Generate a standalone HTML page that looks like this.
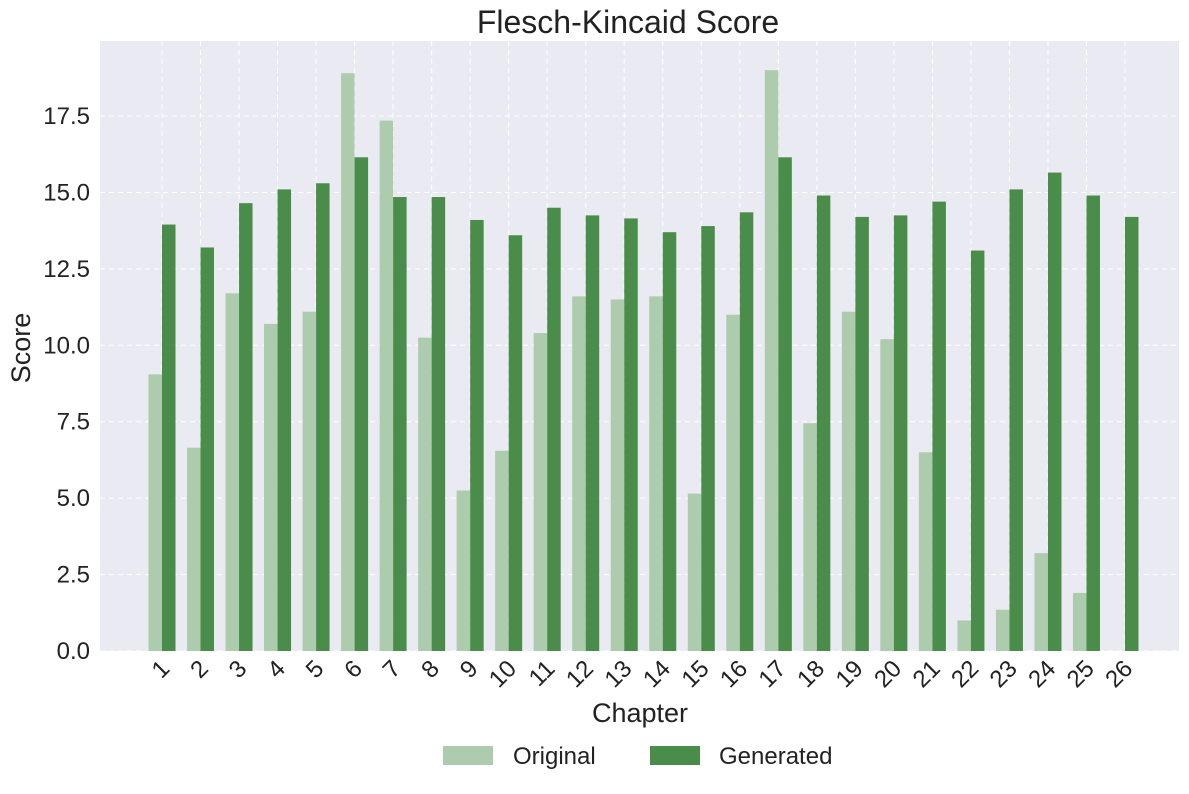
<!DOCTYPE html>
<html><head><meta charset="utf-8"><style>
body{margin:0;background:#fff;font-family:"Liberation Sans",sans-serif}
svg text{font-family:"Liberation Sans",sans-serif;fill:#222}
</style></head><body>
<svg id="chart" width="1189" height="789" viewBox="0 0 1189 789" xmlns="http://www.w3.org/2000/svg">
<rect x="0" y="0" width="1189" height="789" fill="#fff"/>
<rect x="100" y="41" width="1079" height="610" fill="#eaeaf2"/>
<g id="grid"></g><g id="bars"></g><g id="ticks"></g>
<text x="628" y="33" font-size="32" text-anchor="middle">Flesch-Kincaid Score</text>
<text x="640" y="722" font-size="27" text-anchor="middle">Chapter</text>
<text x="30" y="348" font-size="27" text-anchor="middle" transform="rotate(-90 30 348)">Score</text>
<g>
<rect x="443" y="746" width="50" height="19" fill="#adcbad"/>
<text x="513" y="764" font-size="24">Original</text>
<rect x="650" y="746" width="50" height="19" fill="#4a8c4a"/>
<text x="719" y="764" font-size="24">Generated</text>
</g>
</svg>
<script>
const categories=["1","2","3","4","5","6","7","8","9","10","11","12","13","14","15","16","17","18","19","20","21","22","23","24","25","26"];
const original=[9.05,6.65,11.7,10.7,11.1,18.9,17.35,10.25,5.25,6.55,10.4,11.6,11.5,11.6,5.15,11.0,19.0,7.45,11.1,10.2,6.5,1.0,1.35,3.2,1.9,0];
const generated=[13.95,13.2,14.65,15.1,15.3,16.15,14.85,14.85,14.1,13.6,14.5,14.25,14.15,13.7,13.9,14.35,16.15,14.9,14.2,14.25,14.7,13.1,15.1,15.65,14.9,14.2];
const yTicks=[0,2.5,5,7.5,10,12.5,15,17.5];
const NS="http://www.w3.org/2000/svg";
const y=v=>651-v*30.57;
const x=i=>162+i*38.52;
const bw=13.5;
function mk(t,a,p){const e=document.createElementNS(NS,t);for(const k in a)e.setAttribute(k,a[k]);p.appendChild(e);return e;}
const grid=document.getElementById('grid'),bars=document.getElementById('bars'),ticks=document.getElementById('ticks');
yTicks.forEach(v=>{
 const l=mk('line',{x1:100,x2:1179,y1:y(v),y2:y(v),stroke:'#fff','stroke-dasharray':'5,4','stroke-width':1},grid);
 
 
 const t=mk('text',{x:90,y:y(v)+8,'font-size':24,'text-anchor':'end'},ticks);
 t.textContent=v.toFixed(1);
 
 
});
categories.forEach((c,i)=>{
 const g=mk('line',{x1:x(i),x2:x(i),y1:41,y2:651,stroke:'#fff','stroke-dasharray':'5,4','stroke-width':1},grid);
 
 
 const a=mk('rect',{x:x(i)-bw,y:y(original[i]),width:bw,height:651-y(original[i]),fill:'#adcbad'},bars);
 
 
 const b=mk('rect',{x:x(i),y:y(generated[i]),width:bw,height:651-y(generated[i]),fill:'#4a8c4a'},bars);
 
 
 const t=mk('text',{x:x(i)+9,y:670,'font-size':24,'text-anchor':'end',transform:`rotate(-45 ${x(i)+9} 670)`},ticks);
 t.textContent=c;
 
 
});
</script>
</body></html>
